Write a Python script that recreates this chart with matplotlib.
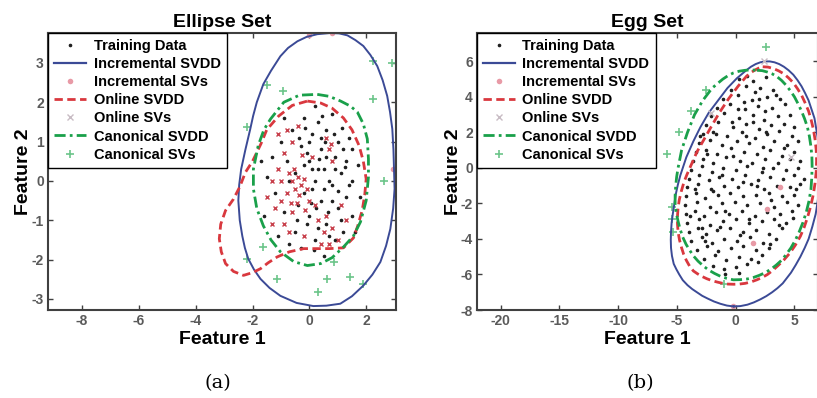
import numpy as np
import matplotlib
matplotlib.use('Agg')
from matplotlib import pyplot as plt
from matplotlib.lines import Line2D

plt.rcParams['font.family'] = ['Liberation Sans', 'DejaVu Sans']
plt.rcParams['axes.unicode_minus'] = False

# ________________________________________________________________________
# (a) Ellipse Set

ell_train = np.array([
    (-0.2, 1.6), (0.3, 1.5), (-0.6, 1.3), (0.1, 1.2), (0.6, 1.3), (1.0, 1.0), (-1.0, 1.0),
    (-0.3, 0.9), (0.4, 0.8), (0.9, 0.6), (1.3, 0.5), (-1.3, 0.6), (-0.8, 0.5), (0.0, 0.5),
    (0.5, 0.3), (1.1, 0.2), (1.5, 0.0), (-1.5, 0.1), (-0.5, 0.2), (0.2, 0.0), (0.8, -0.1),
    (1.3, -0.4), (-1.2, -0.3), (-0.2, -0.3), (0.4, -0.5), (1.0, -0.7), (1.5, -0.9), (-0.9, -0.8),
    (0.0, -0.9), (0.6, -1.1), (1.2, -1.3), (-0.5, -1.3), (0.2, -1.5), (0.9, -1.5), (-1.1, -1.4),
    (-0.3, -1.7), (0.5, -1.9), (0.2, 1.9), (-0.9, 1.6), (0.8, 1.7), (1.4, 1.1), (1.7, 0.4),
    (1.8, -0.4), (1.6, -1.3), (-1.6, -0.9), (-1.7, 0.5), (-0.1, 0.7), (0.7, 0.0), (0.3, 0.3),
    (0.1, -0.2), (0.6, 0.6), (-0.4, -0.6), (1.1, -1.0), (0.3, -1.2), (0.0, 1.0), (0.4, 1.1),
    (1.2, 0.8), (-0.7, 0.0), (0.9, 0.3), (0.5, -0.2), (-0.2, 0.4), (1.4, -0.1), (0.8, -0.5),
    (-0.1, -1.1), (0.7, -1.4), (-0.7, -1.6), (1.5, 0.8), (0.1, 0.3), (0.35, 0.55), (0.25, -0.7),
    (-0.15, 1.35), (0.55, 1.0), (1.0, -0.25), (0.65, -0.8), (-0.45, -1.0), (1.25, 0.35),
    (0.15, -1.75), (0.45, 1.65), (-0.35, 1.1), (1.15, 1.35), (0.05, -0.55), (0.85, 1.2),
])

ell_online_sv = np.array([
    (-0.6, 0.0), (-0.4, 0.1), (-0.5, -0.2), (-0.3, -0.1), (-0.7, 0.2), (-0.2, 0.05), (-0.55, 0.3),
    (-0.8, -0.3), (-0.35, -0.35), (-0.1, -0.2), (-1.0, -0.5), (-1.2, -0.7), (-0.9, -1.1),
    (-1.3, -1.1), (-0.6, -0.8), (-0.7, -1.3), (-1.1, 0.3), (-1.3, 0.0), (-0.9, 0.7), (-0.6, 1.0),
    (-0.4, 1.4), (-1.1, 1.2), (0.3, -1.0), (0.5, -1.3), (0.8, -1.2), (0.6, -0.9), (0.2, -0.6),
    (0.0, -0.5), (1.0, -1.5), (0.7, -1.6), (-0.2, -1.4), (0.7, 0.8), (0.8, 0.5), (0.6, 1.1),
    (0.75, 0.95), (1.3, -1.0), (-1.5, -0.4), (-0.8, 1.3), (0.1, 0.6), (-0.25, 0.65),
    (-0.45, -0.55), (-0.15, -0.75), (0.4, -1.6), (1.1, -0.6), (-1.0, 0.0), (-0.65, -0.55),
])

ell_incr_sv = np.array([(0.0, 3.72), (0.8, 3.75), (2.96, 0.3)])

ell_canon_sv = np.array([
    (-1.48, 2.44), (-0.92, 2.29), (2.25, 2.08), (2.25, 3.05), (2.62, 0.0), (-2.18, 1.37),
    (-1.62, -1.68), (-2.18, -1.98), (-1.13, -2.49), (0.63, -2.49), (1.44, -2.44),
    (0.32, -2.82), (1.9, -2.61), (2.9, 3.0), (0.85, -2.06),
])

ell_incr_svdd = np.array([
    (0.74, 3.76), (0.28, 3.73), (-0.1, 3.66), (-0.42, 3.55), (-0.75, 3.38), (-1.02, 3.17),
    (-1.35, 2.8), (-1.62, 2.46), (-1.85, 2.0), (-1.98, 1.65), (-2.08, 1.32), (-2.25, 0.8),
    (-2.4, 0.3), (-2.47, -0.1), (-2.5, -0.5), (-2.45, -1.0), (-2.36, -1.4), (-2.27, -1.7),
    (-2.15, -1.98), (-1.95, -2.25), (-1.72, -2.49), (-1.4, -2.72), (-1.02, -2.92),
    (-0.45, -3.1), (0.14, -3.18), (0.6, -3.17), (1.09, -3.12), (1.5, -2.93), (1.9, -2.66),
    (2.22, -2.38), (2.5, -2.06), (2.7, -1.65), (2.85, -1.22), (2.95, -0.7), (3.0, -0.2),
    (2.98, 0.3), (2.96, 0.8), (2.92, 1.32), (2.84, 1.75), (2.74, 2.16), (2.58, 2.56),
    (2.39, 2.92), (2.15, 3.2), (1.9, 3.43), (1.62, 3.58), (1.34, 3.7), (1.05, 3.75), (0.74, 3.76),
])

ell_online_svdd = np.array([
    (-0.07, 2.03), (0.4, 1.98), (0.8, 1.85), (1.2, 1.6), (1.5, 1.3), (1.75, 0.9), (1.9, 0.5),
    (2.0, 0.05), (1.95, -0.35), (1.86, -0.75), (1.7, -1.15), (1.55, -1.45), (1.2, -1.7),
    (0.7, -1.72), (0.3, -1.72), (-0.2, -1.72), (-0.7, -1.8), (-1.13, -1.93), (-1.45, -2.08),
    (-1.72, -2.23), (-2.0, -2.33), (-2.32, -2.4), (-2.67, -2.3), (-2.95, -2.1), (-3.1, -1.8),
    (-3.17, -1.47), (-3.12, -1.1), (-2.95, -0.75), (-2.67, -0.46), (-2.45, -0.15),
    (-2.25, 0.22), (-2.0, 0.5), (-1.7, 0.95), (-1.5, 1.3), (-1.08, 1.65), (-0.6, 1.92),
    (-0.07, 2.03),
])

ell_canon_svdd = np.array([
    (0.28, 2.2), (0.7, 2.15), (1.1, 2.03), (1.45, 1.9), (1.69, 1.75), (1.9, 1.45), (2.04, 1.07),
    (2.08, 0.56), (2.08, 0.1), (2.0, -0.5), (1.8, -1.04), (1.55, -1.4), (1.2, -1.68),
    (0.8, -1.95), (0.4, -2.1), (-0.07, -2.15), (-0.55, -2.05), (-1.02, -1.8), (-1.35, -1.5),
    (-1.62, -1.14), (-1.85, -0.7), (-1.97, -0.2), (-1.97, 0.3), (-1.8, 0.9), (-1.6, 1.3),
    (-1.37, 1.57), (-0.9, 2.0), (-0.35, 2.18), (0.28, 2.2),
])

# ________________________________________________________________________
# (b) Egg Set

egg_train = np.array([
    (0.3, 5.0), (1.5, 4.9), (2.6, 5.1), (1.0, 5.2),
    (-0.4, 4.4), (0.9, 4.6), (2.1, 4.5), (3.2, 4.4), (1.6, 4.3),
    (-1.1, 3.9), (0.2, 4.1), (1.4, 3.8), (2.7, 4.0), (3.8, 3.9), (0.7, 3.7),
    (-1.6, 3.4), (-0.5, 3.6), (0.8, 3.3), (1.9, 3.5), (3.1, 3.4), (4.2, 3.6), (2.5, 3.2),
    (-2.1, 2.9), (-1.0, 3.1), (0.3, 2.8), (1.5, 3.0), (2.4, 2.7), (3.6, 2.9), (4.6, 3.0), (-0.3, 2.6),
    (-2.5, 2.4), (-1.5, 2.6), (-0.2, 2.3), (0.9, 2.5), (2.0, 2.2), (3.0, 2.4), (4.1, 2.5), (5.0, 2.3),
    (-2.8, 1.9), (-1.9, 2.0), (-0.7, 1.8), (0.5, 2.0), (1.6, 1.7), (2.7, 1.9), (3.7, 2.1), (4.8, 1.8),
    (-3.1, 1.4), (-2.2, 1.6), (-1.2, 1.3), (0.1, 1.5), (1.1, 1.4), (2.3, 1.2), (3.3, 1.5), (4.4, 1.3),
    (5.3, 1.5), (-3.4, 0.9), (-2.5, 1.0), (-1.6, 0.8), (-0.4, 1.1), (0.7, 0.9), (1.8, 0.8),
    (2.9, 1.0), (3.9, 0.7), (5.0, 0.9),
    (-3.6, 0.4), (-2.8, 0.5), (-1.9, 0.3), (-0.8, 0.6), (0.4, 0.4), (1.4, 0.3), (2.5, 0.5),
    (3.6, 0.3), (4.6, 0.5), (5.5, 0.4),
    (-3.8, -0.1), (-2.9, 0.1), (-2.0, -0.2), (-1.1, 0.0), (0.0, -0.1), (1.0, 0.1), (2.2, -0.2),
    (3.2, 0.0), (4.3, -0.1), (5.3, 0.0),
    (-4.0, -0.6), (-3.1, -0.4), (-2.3, -0.7), (-1.4, -0.5), (-0.3, -0.6), (0.8, -0.4),
    (1.9, -0.7), (2.9, -0.5), (4.0, -0.6), (5.0, -0.4), (5.8, -0.6),
    (-4.1, -1.1), (-3.2, -0.9), (-2.1, -1.2), (-1.0, -1.0), (0.2, -1.1), (1.3, -0.9),
    (2.4, -1.2), (3.5, -1.0), (4.6, -1.1), (5.5, -0.9),
    (-4.2, -1.6), (-3.4, -1.4), (-2.6, -1.7), (-1.5, -1.5), (-0.5, -1.4), (0.6, -1.6),
    (1.7, -1.5), (2.8, -1.4), (3.9, -1.6), (5.0, -1.5),
    (-4.3, -2.1), (-3.3, -1.9), (-2.2, -2.2), (-1.2, -2.0), (-0.1, -1.9), (1.0, -2.1),
    (2.1, -2.0), (3.3, -2.2), (4.4, -1.9), (5.3, -2.1),
    (-4.2, -2.6), (-3.5, -2.4), (-2.7, -2.7), (-1.7, -2.5), (-0.6, -2.6), (0.5, -2.4),
    (1.6, -2.7), (2.7, -2.5), (3.8, -2.6), (4.8, -2.4),
    (-4.1, -3.1), (-3.1, -2.9), (-2.2, -3.2), (-1.1, -3.0), (0.0, -2.9), (1.1, -3.1),
    (2.2, -3.0), (3.3, -2.9), (4.3, -3.1),
    (-4.0, -3.6), (-3.2, -3.4), (-2.5, -3.7), (-1.6, -3.5), (-0.5, -3.4), (0.6, -3.6),
    (1.7, -3.5), (2.8, -3.7), (3.9, -3.4),
    (-3.8, -4.1), (-2.9, -3.9), (-2.0, -4.2), (-1.0, -4.0), (0.1, -4.1), (1.2, -3.9),
    (2.3, -4.2), (3.4, -4.0),
    (-3.3, -4.6), (-2.4, -4.4), (-1.5, -4.7), (-0.4, -4.5), (0.6, -4.4), (1.7, -4.6), (2.8, -4.5),
    (-2.7, -5.1), (-1.8, -4.9), (-0.8, -5.2), (0.3, -5.0), (1.3, -5.1), (2.2, -4.9),
    (-1.9, -5.5), (-1.0, -5.7), (0.0, -5.6), (1.0, -5.4), (-0.9, -6.0), (0.3, -5.9),
    (-2.4, 0.8), (0.6, -0.8), (1.5, 2.6), (-1.3, -3.3), (3.0, -1.8), (-0.9, -2.4), (2.0, 3.9),
    (-3.5, -1.2), (4.1, 1.1), (-2.6, -4.1), (1.9, -5.3), (0.2, 3.3), (3.7, -3.2), (-1.7, 1.9),
    (2.9, -4.3), (-0.2, 0.7), (4.9, -2.8), (-3.9, -2.7), (1.1, -2.9), (2.6, 2.0), (-2.9, -3.4),
    (0.9, 1.8), (-1.2, -0.4), (3.4, 4.1), (-3.0, 1.8), (5.1, -1.2), (0.4, -3.8), (1.8, -1.0),
    (-1.9, -1.3), (2.3, 0.0),
])

egg_incr_sv = np.array([(-0.2, -7.75), (3.8, -1.1), (2.7, -2.3), (1.5, -4.2)])
egg_online_sv = np.array([(-2.1, 3.1), (4.7, 0.6), (2.4, 6.0)])
egg_canon_sv = np.array([
    (2.6, 6.8), (-2.55, 4.4), (-4.85, 2.05), (-5.85, 0.8), (-3.8, 3.2), (-5.4, -2.2),
    (-5.3, -3.6), (-5.4, -2.9), (-1.0, -6.55),
])

egg_incr_svdd = np.array([
    (-0.17, -7.8), (-0.75, -7.75), (-1.3, -7.65), (-1.85, -7.52), (-2.4, -7.35), (-2.85, -7.2),
    (-3.3, -7.0), (-3.7, -6.82), (-4.1, -6.6), (-4.5, -6.32), (-4.8, -6.0), (-5.05, -5.7),
    (-5.27, -5.4), (-5.42, -4.95), (-5.5, -4.5), (-5.52, -4.05), (-5.5, -3.6), (-5.45, -3.1),
    (-5.35, -2.6), (-5.1, -1.5), (-4.92, -0.95), (-4.7, -0.4), (-4.2, 0.6), (-3.6, 1.5),
    (-3.0, 2.3), (-2.3, 3.1), (-1.5, 3.8), (-0.7, 4.5), (0.1, 5.05), (0.9, 5.5), (1.3, 5.7),
    (1.7, 5.85), (2.1, 5.95), (2.5, 6.0), (2.9, 6.0), (3.3, 5.95), (3.7, 5.85), (4.1, 5.7),
    (4.5, 5.5), (4.9, 5.25), (5.25, 4.95), (5.6, 4.6), (5.9, 4.22), (6.2, 3.8), (6.45, 3.3),
    (6.7, 2.8), (6.85, 2.2), (7.0, 1.6), (7.12, 0.95), (7.2, 0.3), (7.18, -0.45), (7.1, -1.2),
    (6.97, -1.9), (6.8, -2.6), (6.52, -3.3), (6.2, -4.0), (5.87, -4.5), (5.5, -5.0),
    (5.1, -5.47), (4.7, -5.9), (4.35, -6.2), (4.0, -6.5), (3.55, -6.77), (3.1, -7.0),
    (2.6, -7.22), (2.1, -7.4), (1.55, -7.57), (1.0, -7.7), (0.4, -7.78), (-0.17, -7.8),
])

egg_online_svdd = np.array([
    (2.3, 5.7), (2.75, 5.68), (3.2, 5.6), (3.65, 5.47), (4.1, 5.3), (4.5, 5.07), (4.9, 4.8),
    (5.25, 4.47), (5.6, 4.1), (5.9, 3.67), (6.2, 3.2), (6.42, 2.7), (6.6, 2.2), (6.75, 1.6),
    (6.85, 1.0), (6.88, 0.4), (6.85, -0.2), (6.75, -0.85), (6.6, -1.5), (6.38, -2.15),
    (6.1, -2.8), (5.82, -3.35), (5.5, -3.85), (5.07, -4.35), (4.6, -4.8), (4.1, -5.18),
    (3.6, -5.5), (3.15, -5.77), (2.7, -6.0), (2.25, -6.17), (1.8, -6.3), (1.3, -6.42),
    (0.8, -6.5), (0.3, -6.54), (-0.17, -6.55), (-0.65, -6.54), (-1.1, -6.5), (-1.55, -6.43),
    (-2.0, -6.35), (-2.45, -6.24), (-2.9, -6.1), (-3.25, -5.96), (-3.6, -5.8), (-3.92, -5.53),
    (-4.2, -5.2), (-4.42, -4.87), (-4.6, -4.5), (-4.78, -4.05), (-4.9, -3.6), (-4.95, -3.15),
    (-4.95, -2.7), (-4.9, -2.25), (-4.8, -1.8), (-4.62, -1.3), (-4.4, -0.8), (-4.15, -0.38),
    (-3.9, 0.0), (-3.6, 0.45), (-3.3, 0.9), (-2.7, 1.6), (-2.1, 2.3), (-1.4, 3.1), (-0.6, 3.9),
    (0.2, 4.6), (0.9, 5.15), (1.25, 5.35), (1.6, 5.5), (1.95, 5.62), (2.3, 5.7),
])

egg_canon_svdd = np.array([
    (1.8, 5.5), (2.25, 5.48), (2.7, 5.4), (3.1, 5.3), (3.5, 5.15), (3.9, 4.93), (4.3, 4.65),
    (4.65, 4.35), (5.0, 4.0), (5.3, 3.62), (5.6, 3.2), (5.86, 2.77), (6.1, 2.3), (6.27, 1.77),
    (6.4, 1.2), (6.48, 0.65), (6.5, 0.1), (6.47, -0.55), (6.4, -1.2), (6.23, -1.87),
    (6.0, -2.5), (5.72, -3.07), (5.4, -3.6), (5.07, -4.07), (4.7, -4.5), (4.3, -4.87),
    (3.9, -5.2), (3.45, -5.47), (3.0, -5.7), (2.5, -5.9), (2.0, -6.05), (1.5, -6.17),
    (1.0, -6.25), (0.4, -6.29), (-0.2, -6.3), (-0.75, -6.22), (-1.3, -6.1), (-1.8, -5.94),
    (-2.3, -5.75), (-2.75, -5.52), (-3.2, -5.25), (-3.57, -4.97), (-3.9, -4.65), (-4.22, -4.3),
    (-4.5, -3.9), (-4.72, -3.46), (-4.9, -3.0), (-5.05, -2.55), (-5.15, -2.1), (-5.15, -1.55),
    (-5.1, -1.0), (-5.02, -0.5), (-4.9, 0.0), (-4.6, 1.0), (-4.1, 2.0), (-3.5, 3.0),
    (-2.8, 3.8), (-2.0, 4.5), (-1.1, 5.0), (-0.65, 5.2), (-0.2, 5.35), (0.3, 5.45), (0.8, 5.5),
    (1.3, 5.52), (1.8, 5.5),
])

labels = ['Training Data', 'Incremental SVDD', 'Incremental SVs', 'Online SVDD',
          'Online SVs', 'Canonical SVDD', 'Canonical SVs']

c_blue = '#3b4a96'
c_red = '#d9383e'
c_green = '#1aa04a'
c_pink = '#e89aa6'
c_gray = '#c8bcc4'
c_lgreen = '#6cc58a'
c_spine = '#404040'


def draw(ax, train, online_sv, incr_sv, canon_sv, incr, online, canon, title,
         xlim, ylim, xticks, yticks):
    ax.plot(train[:, 0], train[:, 1], '.', color='#202020', ms=3.2)
    if online_sv is not None:
        ax.plot(online_sv[:, 0], online_sv[:, 1], 'x', color='#c8404c', ms=2.6, mew=1.0)
    ax.plot(incr_sv[:, 0], incr_sv[:, 1], 'o', color=c_pink, ms=4, mec='none')
    ax.plot(canon_sv[:, 0], canon_sv[:, 1], '+', color=c_lgreen, ms=6, mew=1.2)
    ax.plot(incr[:, 0], incr[:, 1], '-', color=c_blue, lw=1.4)
    ax.plot(online[:, 0], online[:, 1], '--', color=c_red, lw=2.0, dashes=(3, 1.6))
    ax.plot(canon[:, 0], canon[:, 1], '-.', color=c_green, lw=2.0, dashes=(4, 1.5, 1, 1.5))

    ax.set_xlim(xlim)
    ax.set_ylim(ylim)
    ax.set_xticks(xticks)
    ax.set_yticks(yticks)
    ax.tick_params(direction='in', top=True, right=True, length=3.5, width=1,
                   color=c_spine, labelcolor='#5a5a5a', labelsize=10, pad=3)
    for t in ax.get_xticklabels() + ax.get_yticklabels():
        t.set_fontweight('bold')
    for s in ax.spines.values():
        s.set_color(c_spine)
        s.set_linewidth(1.5)

    ax.set_title(title, fontsize=14, fontweight='bold', pad=4)
    ax.set_xlabel('Feature 1', fontsize=14, fontweight='bold')
    ax.set_ylabel('Feature 2', fontsize=14, fontweight='bold')
    ax.xaxis.set_label_coords(0.5, -0.075)
    ax.yaxis.set_label_coords(-0.045, 0.5)

    handles = [
        Line2D([], [], ls='none', marker='.', color='#202020', ms=3.2),
        Line2D([], [], color=c_blue, lw=1.6),
        Line2D([], [], ls='none', marker='o', color=c_pink, ms=4, mec='none'),
        Line2D([], [], color=c_red, lw=2.0, ls='--', dashes=(3, 1.6)),
        Line2D([], [], ls='none', marker='x', color=c_gray, ms=4, mew=1.0),
        Line2D([], [], color=c_green, lw=2.0, ls='-.', dashes=(4, 1.5, 1, 1.5)),
        Line2D([], [], ls='none', marker='+', color=c_lgreen, ms=6, mew=1.2),
    ]
    leg = ax.legend(handles, labels, loc='upper left', bbox_to_anchor=(0, 1),
                    borderaxespad=0, fancybox=False, framealpha=1, edgecolor='black',
                    prop={'weight': 'bold', 'size': 10.5}, labelspacing=0.28,
                    handlelength=2.2, handletextpad=0.5, borderpad=0.42)
    leg.get_frame().set_linewidth(1.0)


fig = plt.figure(figsize=(8.17, 3.98), dpi=100)

ax1 = fig.add_axes([48 / 817, 1 - 310 / 398, 348 / 817, 277 / 398])
draw(ax1, ell_train, ell_online_sv, ell_incr_sv, ell_canon_sv,
     ell_incr_svdd, ell_online_svdd, ell_canon_svdd, 'Ellipse Set',
     (-9.2, 3.05), (-3.28, 3.76), np.arange(-8, 3, 2), np.arange(-3, 4, 1))

ax2 = fig.add_axes([477 / 817, 1 - 310 / 398, 341 / 817, 277 / 398])
draw(ax2, egg_train, None, egg_incr_sv, egg_canon_sv,
     egg_incr_svdd, egg_online_svdd, egg_canon_svdd, 'Egg Set',
     (-22, 7), (-8, 7.6), np.arange(-20, 6, 5), np.arange(-8, 7, 2))
ax2.plot(egg_online_sv[:, 0], egg_online_sv[:, 1], 'x', color=c_gray, ms=4, mew=1.0)

fig.text(218 / 817, 1 - 383 / 398, '(a)', family='DejaVu Serif', fontsize=14,
         ha='center', va='center')
fig.text(640 / 817, 1 - 383 / 398, '(b)', family='DejaVu Serif', fontsize=14,
         ha='center', va='center')

fig.savefig('out.png', dpi=100)
